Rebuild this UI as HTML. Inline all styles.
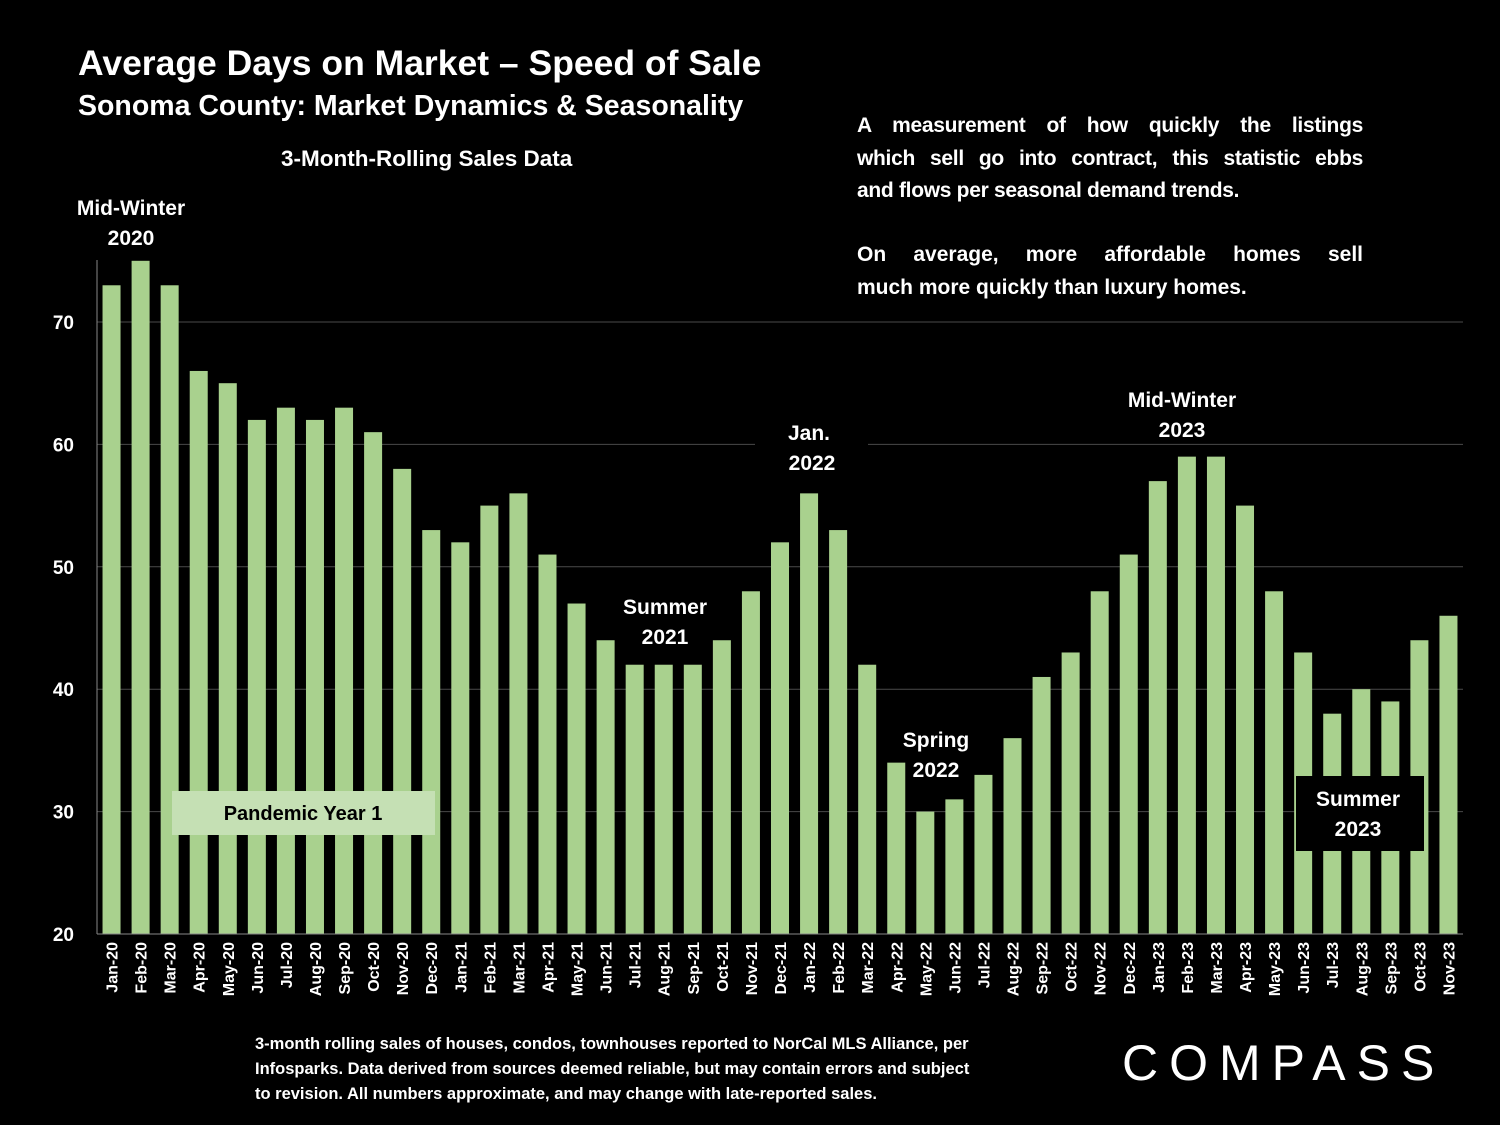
<!DOCTYPE html>
<html><head><meta charset="utf-8">
<style>
html,body{margin:0;padding:0;background:#000;}
body{width:1500px;height:1125px;position:relative;overflow:hidden;font-family:"Liberation Sans",sans-serif;color:#fff;}
.t{position:absolute;font-weight:bold;}
.j{display:block;text-align:justify;text-align-last:justify;white-space:nowrap;}
.l{display:block;white-space:nowrap;}
</style></head><body>
<div class="t" style="left:78px;top:43px;font-size:35.5px;">Average Days on Market – Speed of Sale</div>
<div class="t" style="left:78px;top:90px;font-size:28.5px;">Sonoma County: Market Dynamics &amp; Seasonality</div>
<div class="t" style="left:281px;top:146px;font-size:22.5px;">3-Month-Rolling Sales Data</div>
<div class="t" style="left:857px;top:110px;width:506px;font-size:21px;line-height:32.5px;">
<span class="j" style="letter-spacing:-0.3px">A measurement of how quickly the listings</span>
<span class="j" style="letter-spacing:-0.3px">which sell go into contract, this statistic ebbs</span>
<span class="l" style="letter-spacing:-0.3px">and flows per seasonal demand trends.</span>
</div>
<div class="t" style="left:857px;top:239px;width:506px;font-size:21px;line-height:32.5px;">
<span class="j">On average, more affordable homes sell</span>
<span class="l">much more quickly than luxury homes.</span>
</div>
<svg id="chart" width="1500" height="1125" style="position:absolute;left:0;top:0"></svg>
<div class="t" style="left:255px;top:1032px;font-size:16.5px;line-height:25px;font-weight:bold;white-space:nowrap;">3-month rolling sales of houses, condos, townhouses reported to NorCal MLS Alliance, per<br>Infosparks. Data derived from sources deemed reliable, but may contain errors and subject<br>to revision. All numbers approximate, and may change with late-reported sales.</div>
<div style="position:absolute;left:1122px;top:1034px;font-size:50px;letter-spacing:11px;font-family:'Liberation Sans',sans-serif;">COMPASS</div>
<script>
const categories=["Jan-20","Feb-20","Mar-20","Apr-20","May-20","Jun-20","Jul-20","Aug-20","Sep-20","Oct-20","Nov-20","Dec-20","Jan-21","Feb-21","Mar-21","Apr-21","May-21","Jun-21","Jul-21","Aug-21","Sep-21","Oct-21","Nov-21","Dec-21","Jan-22","Feb-22","Mar-22","Apr-22","May-22","Jun-22","Jul-22","Aug-22","Sep-22","Oct-22","Nov-22","Dec-22","Jan-23","Feb-23","Mar-23","Apr-23","May-23","Jun-23","Jul-23","Aug-23","Sep-23","Oct-23","Nov-23"];
const values=[73,75,73,66,65,62,63,62,63,61,58,53,52,55,56,51,47,44,42,42,42,44,48,52,56,53,42,34,30,31,33,36,41,43,48,51,57,59,59,55,48,43,38,40,39,44,46];
const yTicks=[20,30,40,50,60,70];
const NS="http://www.w3.org/2000/svg";
const svg=document.getElementById('chart');
const x0=97,x1=1463,yBase=934;
const step=(x1-x0)/categories.length;
const xc=i=>x0+step*(i+0.5);
const y=v=>yBase-(v-20)*12.24;
function mk(t,a){const e=document.createElementNS(NS,t);for(const k in a)e.setAttribute(k,a[k]);svg.appendChild(e);return e;}
yTicks.forEach(v=>{
  if(v>20){const g=mk('line',{x1:x0,x2:x1,y1:y(v),y2:y(v),stroke:'#4a4a4a','stroke-width':1});
  
  }
  const t=mk('text',{x:74,y:y(v)+7,'text-anchor':'end',fill:'#fff','font-size':19,'font-weight':'bold','font-family':'Liberation Sans'});
  t.textContent=v;
  
  
});
values.forEach((v,i)=>{
  const r=mk('rect',{x:xc(i)-9,y:y(v),width:18,height:yBase-y(v),fill:'#a9d18e'});
  
  
  const t=mk('text',{transform:`translate(${xc(i)+6},942) rotate(-90)`,'text-anchor':'end',fill:'#fff','font-size':16,'font-weight':'bold','font-family':'Liberation Sans'});
  t.textContent=categories[i];
  
  
});
const ax=mk('line',{x1:x0,x2:x0,y1:260,y2:yBase,stroke:'#888'});


const bx=mk('line',{x1:x0,x2:x1,y1:yBase,y2:yBase,stroke:'#888'});


const b1=mk('rect',{x:755,y:418,width:113,height:60,fill:'#000'});


const b2=mk('rect',{x:1296,y:776,width:128,height:75,fill:'#000'});


const b3=mk('rect',{x:172,y:791,width:263,height:44,fill:'#c5e0b4'});


const notes=[["Mid-Winter",131,215],["2020",131,245],["Summer",665,614],["2021",665,644],["Jan.",809,440],["2022",812,470],["Spring",936,747],["2022",936,777],["Mid-Winter",1182,407],["2023",1182,437],["Summer",1358,806],["2023",1358,836]];
notes.forEach((n,i)=>{
  const t=mk('text',{x:n[1],y:n[2],'text-anchor':'middle',fill:'#fff','font-size':21,'font-weight':'bold','font-family':'Liberation Sans'});
  t.textContent=n[0];
  
  
});
const p=mk('text',{x:303,y:820,'text-anchor':'middle',fill:'#000','font-size':20,'font-weight':'bold','font-family':'Liberation Sans'});
p.textContent="Pandemic Year 1";


</script>
</body></html>
